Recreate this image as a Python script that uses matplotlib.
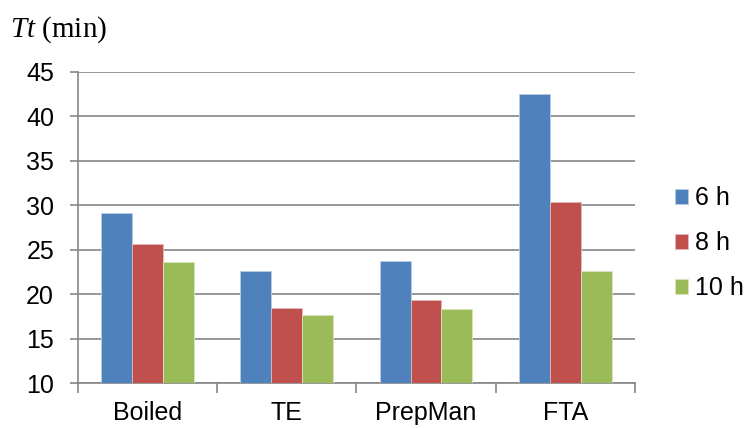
import matplotlib
matplotlib.use("Agg")
import matplotlib.pyplot as plt
import numpy as np

methods = ["Boiled", "TE", "PrepMan", "FTA"]
series = ["6 h", "8 h", "10 h"]
tt_6h = [29.2, 22.65, 23.8, 42.55]
tt_8h = [25.7, 18.5, 19.4, 30.4]
tt_10h = [23.6, 17.7, 18.3, 22.65]
yticks = [10, 15, 20, 25, 30, 35, 40, 45]

colors = ["#4F81BD", "#C0504D", "#9BBB59"]
edges = ["#B9CDE5", "#E6B9B8", "#D7E4BD"]
grey = "#868686"

plt.rcParams['font.family'] = ['Liberation Sans', 'DejaVu Sans']
plt.rcParams['mathtext.fontset'] = 'custom'
plt.rcParams['mathtext.it'] = 'Liberation Serif:italic'
plt.rcParams['mathtext.rm'] = 'Liberation Serif'

fig = plt.figure(figsize=(7.46, 4.28), dpi=100)
ax = fig.add_axes([0.1042, 0.1044, 0.7470, 0.7274])

x = np.arange(len(methods))
w = 0.2222
for i, vals in enumerate([tt_6h, tt_8h, tt_10h]):
    ax.bar(x + (i - 1) * w, np.array(vals) - 10, width=w, bottom=10,
           color=colors[i], edgecolor=edges[i], linewidth=0.6,
           label=series[i], zorder=3)

ax.set_xlim(-0.5, len(methods) - 0.5)
ax.set_ylim(10, 45)
ax.set_yticks(yticks)
ax.tick_params(axis='y', labelsize=18, length=6, width=1.2, color=grey, pad=11)
ax.yaxis.grid(True, color=grey, linewidth=1.2, zorder=0)

# category labels centred, ticks on the boundaries
ax.set_xticks(np.arange(-0.5, len(methods)), minor=False)
ax.set_xticklabels([])
ax.set_xticks(x, minor=True)
ax.set_xticklabels(methods, minor=True, fontsize=18)
ax.tick_params(axis='x', which='major', length=7, width=1.2, color=grey)
ax.tick_params(axis='x', which='minor', length=0, pad=13)

for s in ["top", "right"]:
    ax.spines[s].set_visible(False)
for s in ["left", "bottom"]:
    ax.spines[s].set_color(grey)
    ax.spines[s].set_linewidth(1.2)

fig.text(0.013, 0.914, "$Tt$ (min)", fontsize=21, family='Liberation Serif')

leg = fig.legend(loc='center left', bbox_to_anchor=(0.905, 0.432),
                 fontsize=18, frameon=False, handlelength=0.53,
                 handleheight=0.56, handletextpad=0.25, labelspacing=0.84,
                 borderaxespad=0, borderpad=0)

fig.savefig("out.png", dpi=100)
